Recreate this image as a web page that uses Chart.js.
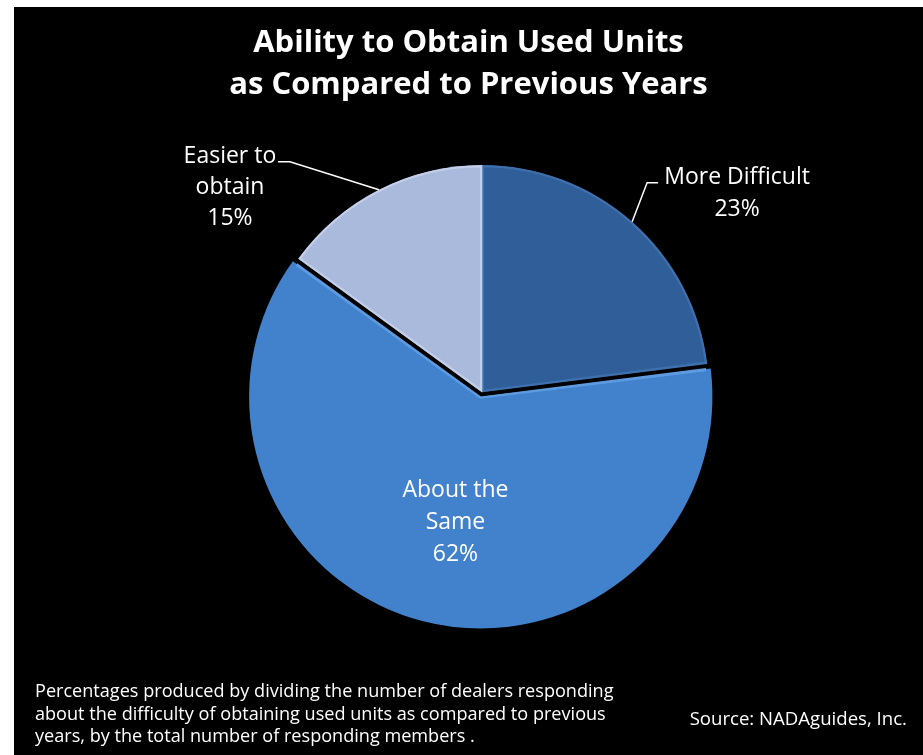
<!DOCTYPE html>
<html>
<head>
<meta charset="utf-8">
<title>Ability to Obtain Used Units</title>
<script src="https://cdn.jsdelivr.net/npm/chart.js@4.4.0/dist/chart.umd.min.js"></script>
<style>
  body { margin: 0; background: #fff; width: 923px; height: 755px; overflow: hidden; font-family: "Open Sans", Lato, sans-serif; color: #fff; }
  #frame { position: absolute; left: 14px; top: 7px; width: 909px; height: 748px; background: #000; }
  #chart { position: absolute; left: 0; top: 0; }
  #title { position: absolute; left: 0; top: 12px; width: 909px; text-align: center; font-weight: bold; font-size: 31px; line-height: 42px; }
  #note { position: absolute; left: 21px; top: 672px; font-size: 18.1px; line-height: 22.5px; }
  #source { position: absolute; right: 16px; top: 700px; font-size: 18.6px; line-height: 22.5px; }
</style>
</head>
<body>
<div id="frame">
  <canvas id="chart" width="909" height="748"></canvas>
  <div id="title">Ability to Obtain Used Units<br>as Compared to Previous Years</div>
  <div id="note">Percentages produced by dividing the number of dealers responding<br>about the difficulty of obtaining used units as compared to previous<br>years, by the total number of responding members .</div>
  <div id="source">Source: NADAguides, Inc.</div>
</div>
<script>
// category names, already split the way the labels wrap
const categories = [['More Difficult'], ['About the', 'Same'], ['Easier to', 'obtain']]
const shares = [23, 62, 15]
const sliceColors = ['#2f5e98', '#4281cc', '#a9badd']
const rimColors = ['#3d70ad', '#5d9be0', '#c3cfea']
// the middle slice is pulled out a little
const offsets = [0, 20, 0]

// data labels: two outside with a leader line, one inside
const pieLabels = {
    id: 'pieLabels',
    afterDatasetsDraw(chart) {
        const ctx = chart.ctx
        const arcs = chart.getDatasetMeta(0).data
        ctx.save()
        ctx.fillStyle = '#fff'
        ctx.strokeStyle = '#fff'
        ctx.lineWidth = 1.5
        ctx.font = '23px "Open Sans", Lato, sans-serif'
        ctx.textAlign = 'center'
        ctx.textBaseline = 'middle'
        arcs.forEach((arc, i) => {
            const mid = (arc.startAngle + arc.endAngle) / 2
            const r = arc.outerRadius
            const lines = categories[i].concat([shares[i] + '%'])
            if (i === 1) {
                const shift = arc.options.offset / 2
                const cx = arc.x + Math.cos(mid) * (r * 0.55 + shift) + 7
                const cy = arc.y + Math.sin(mid) * (r * 0.55 + shift)
                lines.forEach((t, k) => ctx.fillText(t, cx, cy + (k - 1) * 32))
                return
            }
            const ex = arc.x + Math.cos(mid) * r
            const ey = arc.y + Math.sin(mid) * r
            ctx.beginPath()
            ctx.moveTo(ex, ey)
            if (i === 0) {
                ctx.lineTo(ex + 15, ey - 39)
                ctx.lineTo(ex + 26, ey - 39)
                ctx.stroke()
                lines.forEach((t, k) => ctx.fillText(t, ex + 105, ey - 44 + k * 32))
            } else {
                ctx.lineTo(ex - 89, ey - 28)
                ctx.lineTo(ex - 101, ey - 28)
                ctx.stroke()
                lines.forEach((t, k) => ctx.fillText(t, ex - 149, ey - 33 + k * 31))
            }
        })
        ctx.restore()
    }
}

new Chart(document.getElementById('chart'), {
    type: 'pie',
    data: {
        labels: categories.map(c => c.join(' ')),
        datasets: [{
            data: shares,
            backgroundColor: sliceColors,
            borderColor: rimColors,
            borderWidth: 2,
            borderAlign: 'inner',
            offset: offsets
        }]
    },
    options: {
        responsive: false,
        animation: false,
        radius: 227,
        layout: { padding: { left: 220, right: 193, top: 130, bottom: 108 } },
        plugins: {
            legend: { display: false },
            tooltip: { enabled: false }
        }
    },
    plugins: [pieLabels]
})
</script>
</body>
</html>
